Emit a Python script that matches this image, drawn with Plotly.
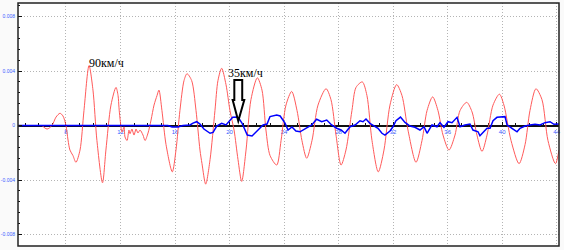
import plotly.graph_objects as go

# Red signal (90 km/h)
red_x = [6.24, 6.61, 6.97, 7.27, 7.56, 7.78, 8.0, 8.15, 8.29, 8.51, 8.73, 9.03, 9.32, 9.69, 9.98,
         10.27, 10.68, 10.93, 11.30, 11.67, 11.82, 11.89, 11.96, 12.11, 12.26, 12.33, 12.48, 12.62,
         12.70, 12.84, 12.99, 13.14, 13.28, 13.43, 13.65, 13.80, 14.02, 14.24, 14.46, 14.68, 14.82,
         15.04, 15.34, 15.80, 16.07, 16.36, 16.66, 16.88, 17.22, 17.54, 17.83, 17.98, 18.25, 18.57,
         18.93, 19.15, 19.42, 19.74, 20.03, 20.33, 20.62, 20.89, 21.21, 21.57, 22.04, 22.38, 22.67,
         22.97, 23.46, 23.78, 24.14, 24.56, 24.95, 25.31, 25.66, 26.05, 26.49, 27.08, 27.44, 27.81,
         28.18, 28.54, 28.98, 29.28, 29.74, 30.08, 30.45, 30.91, 31.33, 31.77, 32.26, 32.65, 33.09,
         33.68, 34.12, 34.49, 34.90, 35.29, 35.66, 36.10, 36.54, 36.91, 37.40, 37.79, 38.15, 38.52,
         38.89, 39.33, 39.80, 40.13, 40.65, 41.24, 41.68, 42.04, 42.48, 42.92, 43.36, 43.91, 44.17]
red_y = [0, -0.00026, 0, 0.00062, 0.0009, 0.0007, 0, -0.00106, -0.0018, -0.0022, -0.0027, -0.0018,
         0.0011, 0.0044, 0.0026, -0.0011, -0.0042, -0.0018, 0.0015, 0.0028, 0.0022, 0.0013, 0.00055,
         -0.00048, -0.0001, -0.00084, -0.0011, -0.00033, -0.0006, -0.00026, -0.0007, -0.00026,
         -0.00055, -0.00033, -0.0007, -0.0011, -0.00055, 0.0004, 0.0015, 0.0022, 0.0026, 0.0011,
         -0.0014, -0.0034, -0.0018, 0.0011, 0.0033, 0.0038, 0.0033, 0.0011, -0.0018, -0.0028,
         -0.0043, -0.0025, 0.0011, 0.0033, 0.0042, 0.003, 0.0011, -0.00033, -0.0025, -0.0041,
         -0.0018, 0.0019, 0.0035, 0.0026, -0.00033, -0.0022, -0.0029, -0.0011, 0.0015, 0.0025,
         0.0011, -0.0011, -0.0024, -0.0011, 0.0015, 0.0027, 0.0019, -0.0007, -0.0029, -0.0018,
         0.0011, 0.0028, 0.0032, 0.0022, -0.0011, -0.0034, -0.0018, 0.0015, 0.003, 0.0022, -0.00033,
         -0.0027, -0.0011, 0.0011, 0.0021, 0.0011, -0.0007, -0.0018, -0.0007, 0.0011, 0.0017, 0.001,
         -0.0007, -0.0019, -0.0007, 0.0015, 0.0023, 0.0015, -0.0011, -0.0028, -0.0014, 0.0011,
         0.0027, 0.0019, -0.0011, -0.0028, -0.0018]

# Blue signal (35 km/h)
blue_x = [4.48, 15.48, 15.78, 16.22, 16.58, 17.10, 17.32, 17.59, 17.83, 18.12, 18.57, 18.79, 19.06,
          19.42, 19.74, 19.96, 20.23, 20.62, 20.91, 21.30, 21.65, 22.09, 22.46, 22.75, 22.97, 23.46,
          23.71, 24.07, 24.29, 24.58, 24.87, 25.17, 25.66, 26.03, 26.39, 26.76, 27.13, 27.49, 27.86,
          28.18, 28.47, 28.84, 29.21, 29.57, 29.79, 30.01, 30.30, 30.67, 30.89, 31.18, 31.40, 31.77,
          31.99, 32.21, 32.54, 32.87, 33.24, 33.60, 33.97, 34.27, 34.49, 34.85, 35.22, 35.44, 35.73,
          36.03, 36.32, 36.69, 36.91, 37.27, 37.64, 37.86, 38.23, 38.37, 38.67, 38.89, 39.11, 39.33,
          39.62, 40.21, 40.36, 40.72, 41.09, 41.31, 41.68, 42.04, 42.41, 42.78, 43.14, 43.51, 43.80,
          44.17]
blue_y = [0, 0, -0.00011, -0.00011, 0, 0.00004, 0.00018, 0.00028, 0.00011, -0.00026, -0.00057,
          -0.0005, -0.00004, 0.00016, 0.00004, 0.00033, 0.0006, 0.00062, 0.00018, -0.0007, -0.00077,
          -0.00033, 0.00004, 0.00011, 0.00066, 0.00077, 0.0007, 0.00018, -0.00033, -0.00011, -0.0004,
          -0.00046, -0.0002, 0.00004, 0.00046, 0.00028, 0.0004, 0.00004, -0.0002, -0.00033, -0.00057,
          -0.00009, 0.00004, 0.00035, 0.00028, 0.00048, 0.00016, -0.00009, -0.0002, -0.00057, -0.0007,
          -0.0004, -0.00009, 0.00035, 0.00062, 0.00023, -0.00004, -0.00013, -0.00033, -0.00009,
          -0.00057, 0.00004, -0.00009, 0.00021, -0.00013, 0.00028, 0.00021, 0.0006, -0.00009,
          0.00004, 0.00011, -0.00033, -0.00046, -0.00075, -0.00046, -0.0002, -0.0002, 0.00035,
          0.0006, 0.00065, 0.00004, -0.0002, -0.00046, -0.0002, -0.00004, 0.00004, 0.00009, 0.00004,
          0.00021, 0.00028, 0.00009, 0.00011]

y_tickvals = [-0.008, -0.004, 0, 0.004, 0.008]
y_ticktext = ["-0.008", "-0.004", "0", "0.004", "0.008"]

X_MIN, X_MAX = 4.48, 44.17
Y_MIN, Y_MAX = -0.00884, 0.00899

fig = go.Figure()
fig.add_trace(go.Scatter(x=red_x, y=red_y, mode="lines",
                         line=dict(color="#ff5a5a", width=1, shape="spline", smoothing=0.8),
                         hoverinfo="skip"))
fig.add_trace(go.Scatter(x=blue_x, y=blue_y, mode="lines",
                         line=dict(color="#0000ff", width=1.5), hoverinfo="skip"))

zero_pos = (0 - Y_MIN) / (Y_MAX - Y_MIN)

fig.update_layout(
    width=564, height=250,
    margin=dict(l=18, r=5, t=3, b=4),
    paper_bgcolor="#fafafa", plot_bgcolor="white",
    showlegend=False,
    xaxis=dict(range=[X_MIN, X_MAX], tickmode="linear", tick0=0, dtick=4,
               anchor="free", position=zero_pos, showline=True, linecolor="#111",
               linewidth=2, ticks="inside", ticklen=3, tickcolor="#111",
               minor=dict(dtick=1, tick0=0, ticks="inside", ticklen=2, tickcolor="#111", showgrid=False),
               showgrid=True, gridcolor="#b4b4b4", griddash="1px,2px", gridwidth=1,
               zeroline=False, layer="below traces", automargin=False,
               tickfont=dict(family="Liberation Sans", size=6, color="#3a5cff"),
               ticklabelstandoff=0),
    yaxis=dict(range=[Y_MIN, Y_MAX], tickmode="array", tickvals=y_tickvals, ticktext=y_ticktext,
               showline=False, ticks="inside", ticklen=4, tickcolor="#111",
               minor=dict(tickmode="linear", tick0=0, dtick=0.0008, ticks="inside", ticklen=2,
                          tickcolor="#111", showgrid=False),
               showgrid=True, gridcolor="#b4b4b4", griddash="1px,2px", gridwidth=1,
               zeroline=False, automargin=False,
               tickfont=dict(family="Liberation Sans Narrow, Liberation Sans", size=5, color="#3a5cff"),
               ticklabelstandoff=2),
    shapes=[
        dict(type="rect", xref="paper", yref="paper", x0=0, y0=0, x1=1, y1=1,
             line=dict(color="#222", width=1.5), layer="above"),
        dict(type="path", xref="x", yref="y",
             path="M 20.35,0.00334 L 20.93,0.00334 L 20.93,0.00187 L 21.08,0.00187 "
                  "L 20.64,0.00033 L 20.23,0.00187 L 20.35,0.00187 Z",
             line=dict(color="black", width=2), fillcolor="white", layer="above"),
    ],
    annotations=[
        dict(text="90км/ч", x=11.0, y=0.00461, xref="x", yref="y", showarrow=False,
             xanchor="center", yanchor="middle",
             font=dict(family="Liberation Serif", size=12, color="black")),
        dict(text="35км/ч", x=21.2, y=0.00388, xref="x", yref="y", showarrow=False,
             xanchor="center", yanchor="middle",
             font=dict(family="Liberation Serif", size=12, color="black")),
    ],
)

fig.write_html("out.html")
